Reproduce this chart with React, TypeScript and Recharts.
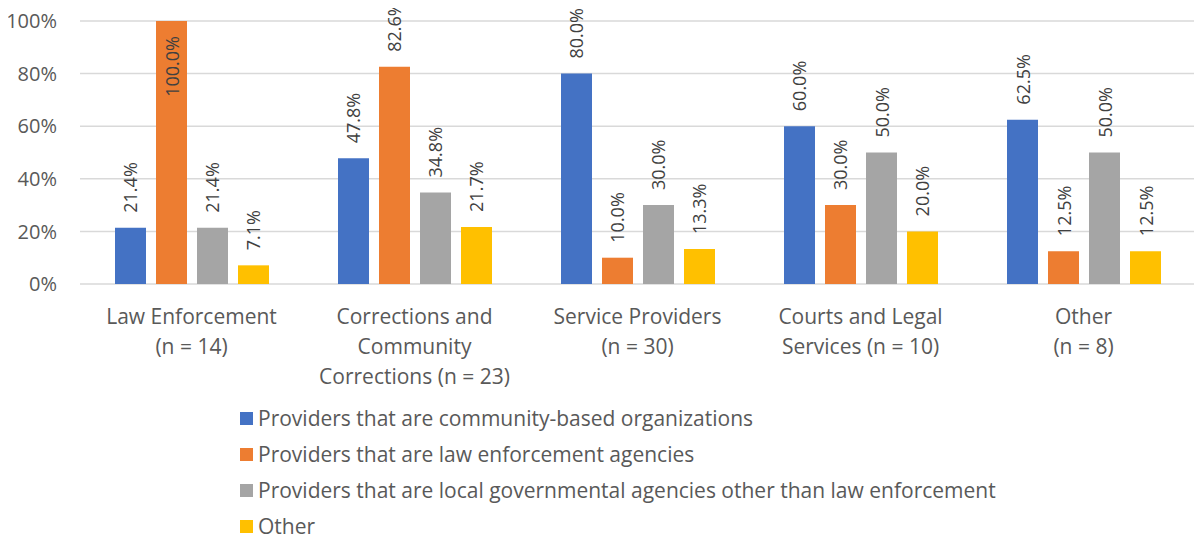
import React from 'react';
import { BarChart, Bar, XAxis, YAxis, CartesianGrid, Legend, LabelList } from 'recharts';

const categories = [
  'Law Enforcement (n = 14)',
  'Corrections and Community Corrections (n = 23)',
  'Service Providers (n = 30)',
  'Courts and Legal Services (n = 10)',
  'Other (n = 8)',
];
const categoryLines = [
  ['Law Enforcement', '(n = 14)'],
  ['Corrections and', 'Community', 'Corrections (n = 23)'],
  ['Service Providers', '(n = 30)'],
  ['Courts and Legal', 'Services (n = 10)'],
  ['Other', '(n = 8)'],
];
const communityBased = [21.4, 47.8, 80.0, 60.0, 62.5];
const lawEnforcement = [100.0, 82.6, 10.0, 30.0, 12.5];
const localGov = [21.4, 34.8, 30.0, 50.0, 50.0];
const otherProviders = [7.1, 21.7, 13.3, 20.0, 12.5];
const yTicks = [0, 20, 40, 60, 80, 100];

const series = [
  { key: 'community', name: 'Providers that are community-based organizations', color: '#4472C4' },
  { key: 'law', name: 'Providers that are law enforcement agencies', color: '#ED7D31' },
  { key: 'local', name: 'Providers that are local governmental agencies other than law enforcement', color: '#A5A5A5' },
  { key: 'other', name: 'Other', color: '#FFC000' },
];

const data = categories.map((c, i) => ({
  category: c,
  community: communityBased[i],
  law: lawEnforcement[i],
  local: localGov[i],
  other: otherProviders[i],
}));

const FONT = '"Open Sans", Lato, sans-serif';

const BarLabel = (props: any) => {
  const { x, y, width, value } = props;
  const cx = x + width / 2;
  const inside = value >= 95;
  const ty = inside ? y + 15 : y - 15;
  return (
    <text
      x={cx}
      y={ty}
      transform={`rotate(-90, ${cx}, ${ty})`}
      textAnchor={inside ? 'end' : 'start'}
      dominantBaseline="central"
      fill="#404040"
      fontSize={18}
      fontFamily={FONT}
    >
      {`${Number(value).toFixed(1)}%`}
    </text>
  );
};

const CategoryTick = (props: any) => {
  const { x, y, index } = props;
  const lines = categoryLines[index] || [];
  return (
    <g>
      {lines.map((l, i) => (
        <text
          key={i}
          x={x}
          y={y + 30 + i * 30}
          textAnchor="middle"
          dominantBaseline="central"
          fill="#595959"
          fontSize={21}
          fontFamily={FONT}
        >
          {l}
        </text>
      ))}
    </g>
  );
};

const LegendBox = () => (
  <div style={{ height: 136, fontFamily: FONT, fontSize: 21, color: '#595959' }}>
    {series.map((s) => (
      <div key={s.key} style={{ display: 'flex', alignItems: 'center', height: 36, lineHeight: '22px' }}>
        <span style={{ width: 13, height: 13, background: s.color, marginRight: 5, display: 'inline-block' }} />
        <span>{s.name}</span>
      </div>
    ))}
  </div>
);

export default function App() {
  return (
    <div style={{ margin: '-8px 0 0 -8px', width: 1202, height: 541, fontFamily: FONT }}>
      <BarChart
        width={1202}
        height={541}
        data={data}
        margin={{ top: 21, right: 7, bottom: 21, left: 0 }}
        barSize={31}
        barGap={10}
      >
        <CartesianGrid vertical={false} stroke="#D9D9D9" strokeWidth={1.5} />
        <XAxis
          dataKey="category"
          axisLine={false}
          tickLine={false}
          tickSize={0}
          height={100}
          interval={0}
          tick={<CategoryTick />}
        />
        <YAxis
          domain={[0, 100]}
          ticks={yTicks}
          width={80}
          axisLine={false}
          tickLine={false}
          tickSize={0}
          tickMargin={23}
          tickFormatter={(v) => `${v}%`}
          tick={{ fill: '#595959', fontSize: 20, fontFamily: FONT }}
        />
        <Legend
          verticalAlign="bottom"
          content={<LegendBox />}
          wrapperStyle={{ left: 240, top: 400, bottom: 'auto', width: 900 }}
        />
        {series.map((s) => (
          <Bar key={s.key} dataKey={s.key} name={s.name} fill={s.color} isAnimationActive={false}>
            <LabelList dataKey={s.key} content={<BarLabel />} />
          </Bar>
        ))}
      </BarChart>
    </div>
  );
}
